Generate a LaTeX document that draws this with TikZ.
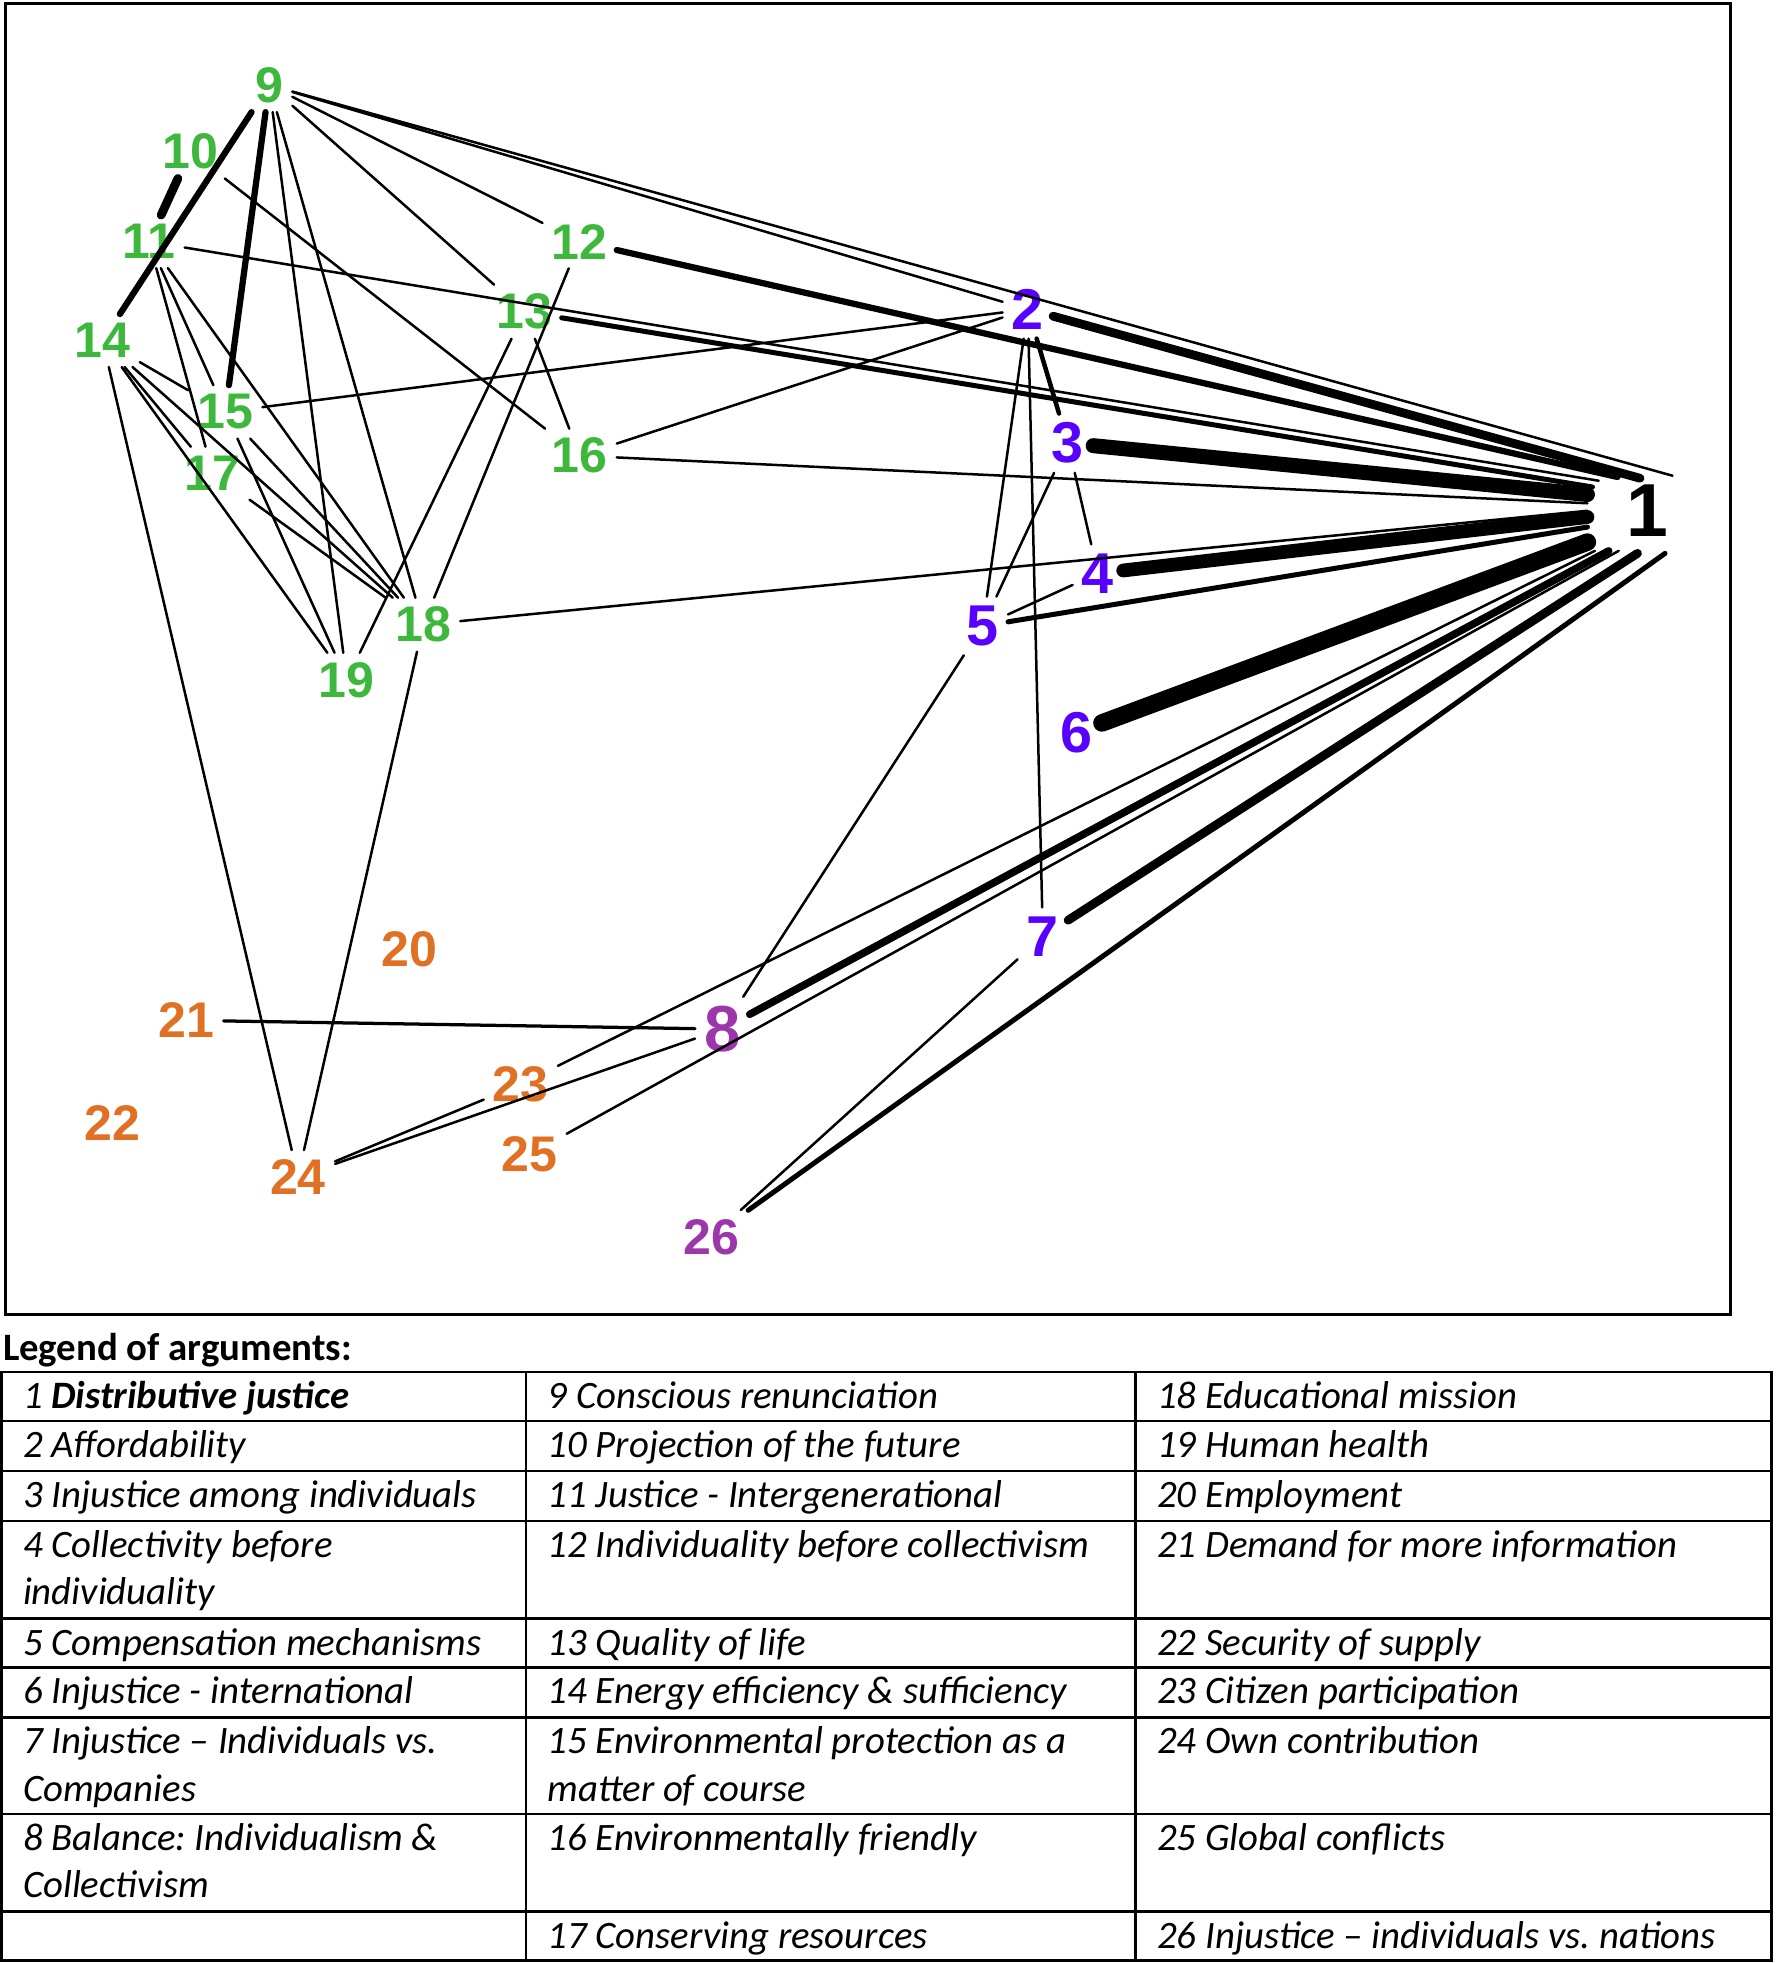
\documentclass[tikz,border=0pt]{standalone}
\usepackage{fontspec}
\setmainfont{Carlito}
\newfontfamily\numfont{Liberation Sans}
\newcommand\legfont{\fontsize{15.5}{19}\selectfont\itshape}
\definecolor{cgreen}{RGB}{61,184,61}
\definecolor{cblue}{RGB}{88,0,255}
\definecolor{corange}{RGB}{224,112,36}
\definecolor{cmix}{RGB}{155,55,170}
\frenchspacing
\begin{document}
\begin{tikzpicture}[x=0.5pt,y=-0.5pt,
  lab/.style={inner sep=3.5pt, font=\numfont\bfseries\fontsize{20}{24}\selectfont},
  gnode/.style={lab, text=cgreen},
  bnode/.style={lab, text=cblue, font=\numfont\bfseries\fontsize{23}{27}\selectfont},
  onode/.style={lab, text=corange},
  mnode/.style={lab, text=cmix},
  ln/.style={line width=1pt, line cap=round},
  cell/.style={anchor=north west, inner sep=0pt, align=left, font=\legfont},
  grid/.style={line width=1pt}]
\useasboundingbox (0,0) rectangle (1419,1568);
\draw[line width=1.2pt] (4,3) rectangle (1382,1050);

% nodes
\node[lab, font=\numfont\bfseries\fontsize{30}{34}\selectfont] (n1) at (1316,408) {1};
\node[bnode] (n2) at (821,247) {2};
\node[bnode] (n3) at (853,354) {3};
\node[bnode] (n4) at (877,458) {4};
\node[bnode] (n5) at (785,500) {5};
\node[bnode] (n6) at (860,585) {6};
\node[bnode] (n7) at (833,748) {7};
\node[mnode, font=\numfont\bfseries\fontsize{26}{30}\selectfont] (n8) at (577,822) {8};
\node[gnode] (n9) at (215,68) {9};
\node[gnode] (n10) at (152,121) {10};
\node[gnode] (n11) at (119,193) {11};
\node[gnode] (n12) at (463,193) {12};
\node[gnode] (n13) at (419,249) {13};
\node[gnode] (n14) at (82,272) {14};
\node[gnode] (n15) at (180,329) {15};
\node[gnode] (n16) at (463,364) {16};
\node[gnode] (n17) at (170,378) {17};
\node[gnode] (n18) at (338,499) {18};
\node[gnode] (n19) at (277,543) {19};
\node[onode] (n20) at (327,758) {20};
\node[onode] (n21) at (149,815) {21};
\node[onode] (n22) at (90,897) {22};
\node[onode] (n23) at (416,866) {23};
\node[onode] (n24) at (238,940) {24};
\node[onode] (n25) at (423,922) {25};
\node[mnode] (n26) at (568,988) {26};

% edges to 1
\draw[ln] (n9) -- ([shift={(20,-28)}]n1.center);
\draw[ln, line width=3.5pt] (n2) -- ([shift={(-6,-26)}]n1.center);
\draw[ln, line width=2.5pt] (n12) -- ([shift={(-24,-27)}]n1.center);
\draw[ln] (n11) -- ([shift={(-39,-24)}]n1.center);
\draw[ln, line width=2pt] (n13) -- ([shift={(-44,-19)}]n1.center);
\draw[ln, line width=6pt] (n3) -- ([shift={(-48,-13)}]n1.center);
\draw[ln] (n16) -- ([shift={(-48,-6)}]n1.center);
\draw[ln] (n18) -- ([shift={(-48,0)}]n1.center);
\draw[ln, line width=5.5pt] (n4) -- ([shift={(-48,5)}]n1.center);
\draw[ln, line width=2pt] (n5) -- ([shift={(-48,13)}]n1.center);
\draw[ln, line width=7pt] (n6) -- ([shift={(-48,25)}]n1.center);
\draw[ln] (n23) -- ([shift={(-42,32)}]n1.center);
\draw[ln, line width=3pt] (n8) -- ([shift={(-31,32)}]n1.center);
\draw[ln] (n25) -- ([shift={(-23,32)}]n1.center);
\draw[ln, line width=3.5pt] (n7) -- ([shift={(-8,34)}]n1.center);
\draw[ln, line width=2pt] (n26) -- ([shift={(14,34)}]n1.center);

% other edges
\draw[ln] (n9) -- (n2);
\draw[ln] (n9) -- (n12);
\draw[ln] (n9) -- (n13);
\draw[ln, line width=2.5pt] (n9) -- (n14);
\draw[ln, line width=2.5pt] (n9) -- (n15);
\draw[ln] (n9) -- (n18);
\draw[ln] (n9) -- (n19);
\draw[ln, line width=3.5pt] (n10) -- (n11);
\draw[ln] (n10) -- (n16);
\draw[ln] (n11) -- (n15);
\draw[ln] (n11) -- (n17);
\draw[ln] (n11) -- (n18);
\draw[ln] (n12) -- (n18);
\draw[ln] (n13) -- (n16);
\draw[ln] (n13) -- (n19);
\draw[ln] (n14) -- (n15);
\draw[ln] (n14) -- (n17);
\draw[ln] (n14) -- (n18);
\draw[ln] (n14) -- (n19);
\draw[ln] (n14) -- (n24);
\draw[ln] (n15) -- (n2);
\draw[ln] (n15) -- (n18);
\draw[ln] (n15) -- (n19);
\draw[ln] (n16) -- (n2);
\draw[ln] (n17) -- (n18);
\draw[ln] (n18) -- (n24);
\draw[ln, line width=1.8pt] (n2) -- (n3);
\draw[ln] (n2) -- (n5);
\draw[ln] (n2) -- (n7);
\draw[ln] (n3) -- (n4);
\draw[ln] (n3) -- (n5);
\draw[ln] (n4) -- (n5);
\draw[ln] (n5) -- (n8);
\draw[ln] (n7) -- (n26);
\draw[ln, line width=1.3pt] (n21) -- (n8);
\draw[ln] (n24) -- (n8);
\draw[ln] (n24) -- (n23);

% legend
\node[anchor=base west, inner sep=0pt, font=\fontsize{15.5}{19}\selectfont\bfseries] (title) at (2,1087) {Legend of arguments:};
\draw[grid] (1,1096) rectangle (1415,1566);
\foreach \yy in {1135,1175,1215,1293,1332,1372,1449,1527} \draw[grid] (1,\yy) -- (1415,\yy);
\draw[grid] (420,1096) -- (420,1566);
\draw[grid] (907,1096) -- (907,1566);

\node[cell] (a1) at (18,1098) {\strut 1 \textbf{Distributive justice}};
\node[cell] (a2) at (18,1137) {\strut 2 Affordability};
\node[cell] (a3) at (18,1177) {\strut 3 Injustice among individuals};
\node[cell] (a4) at (18,1217) {\strut 4 Collectivity before\\\strut individuality};
\node[cell] (a5) at (18,1295) {\strut 5 Compensation mechanisms};
\node[cell] (a6) at (18,1334) {\strut 6 Injustice - international};
\node[cell] (a7) at (18,1374) {\strut 7 Injustice -- Individuals vs.\\\strut Companies};
\node[cell] (a8) at (18,1451) {\strut 8 Balance: Individualism \&\\\strut Collectivism};

\node[cell] (b1) at (437,1098) {\strut 9 Conscious renunciation};
\node[cell] (b2) at (437,1137) {\strut 10 Projection of the future};
\node[cell] (b3) at (437,1177) {\strut 11 Justice - Intergenerational};
\node[cell] (b4) at (437,1217) {\strut 12 Individuality before collectivism};
\node[cell] (b5) at (437,1295) {\strut 13 Quality of life};
\node[cell] (b6) at (437,1334) {\strut 14 Energy efficiency \& sufficiency};
\node[cell] (b7) at (437,1374) {\strut 15 Environmental protection as a\\\strut matter of course};
\node[cell] (b8) at (437,1451) {\strut 16 Environmentally friendly};
\node[cell] (b9) at (437,1529) {\strut 17 Conserving resources};

\node[cell] (c1) at (924,1098) {\strut 18 Educational mission};
\node[cell] (c2) at (924,1137) {\strut 19 Human health};
\node[cell] (c3) at (924,1177) {\strut 20 Employment};
\node[cell] (c4) at (924,1217) {\strut 21 Demand for more information};
\node[cell] (c5) at (924,1295) {\strut 22 Security of supply};
\node[cell] (c6) at (924,1334) {\strut 23 Citizen participation};
\node[cell] (c7) at (924,1374) {\strut 24 Own contribution};
\node[cell] (c8) at (924,1451) {\strut 25 Global conflicts};
\node[cell] (c9) at (924,1529) {\strut 26 Injustice -- individuals vs. nations};
\end{tikzpicture}
\end{document}
